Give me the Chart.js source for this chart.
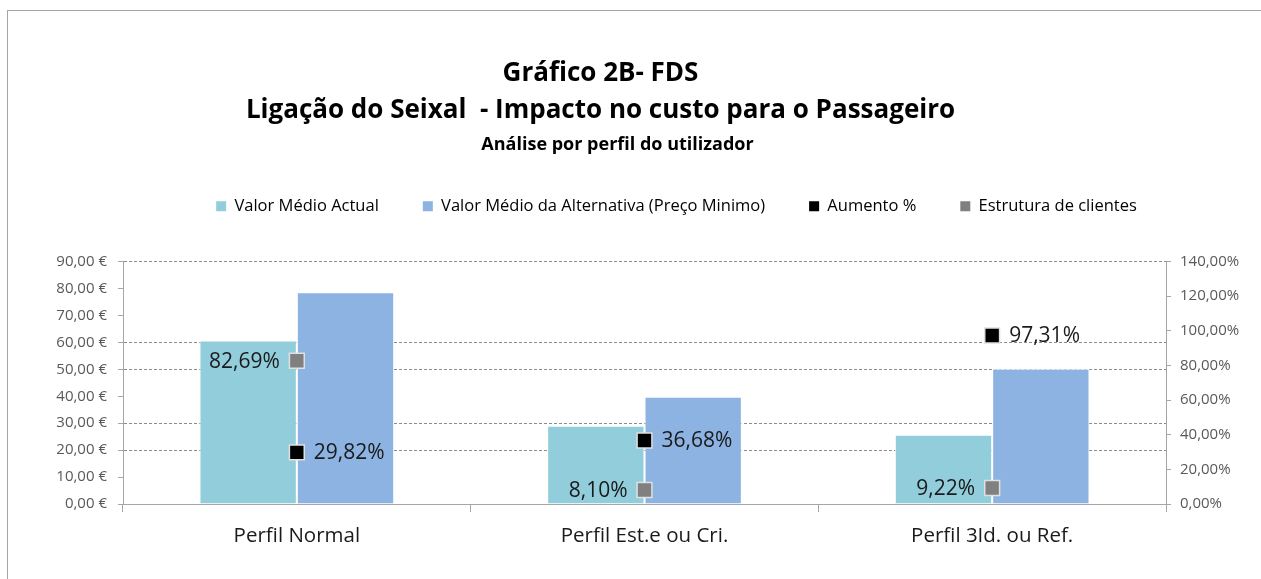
<!DOCTYPE html>
<html>
<head>
<meta charset="utf-8">
<script src="https://cdn.jsdelivr.net/npm/chart.js@4.4.1/dist/chart.umd.min.js"></script>
<style>
  html, body { margin: 0; padding: 0; background: #fff; }
  #frame { position: absolute; left: 7px; top: 10px; width: 1300px; height: 600px; border: 1px solid #a6a6a6; }
  #wrap { position: absolute; left: 0; top: 0; width: 1261px; height: 579px; }
</style>
</head>
<body>
<div id="frame"></div>
<div id="wrap"><canvas id="chart" width="1261" height="579"></canvas></div>
<script>
const categories = ['Perfil Normal', 'Perfil Est.e ou Cri.', 'Perfil 3Id. ou Ref.'];
const valorActual = [60.7, 29.0, 25.7];
const valorAlternativa = [78.6, 39.8, 50.2];
const aumento = [29.82, 36.68, 97.31];
const estrutura = [82.69, 8.10, 9.22];
const leftTicks = [0, 10, 20, 30, 40, 50, 60, 70, 80, 90];
const rightTicks = [0, 20, 40, 60, 80, 100, 120, 140];

const FONT = '"Open Sans", Lato, sans-serif';
const shownGrid = [90, 60, 50, 30, 20];

function euro(v) { return v.toFixed(2).replace('.', ',') + ' €'; }
function pct(v) { return v.toFixed(2).replace('.', ',') + '%'; }

// labels beside the markers
const pointLabels = {
  id: 'pointLabels',
  afterDatasetsDraw(chart) {
    const ctx = chart.ctx;
    ctx.save();
    ctx.font = '21px ' + FONT;
    ctx.fillStyle = '#1a1a1a';
    ctx.textBaseline = 'middle';
    chart.data.datasets.forEach((ds, i) => {
      if (!ds.labelSide) return;
      chart.getDatasetMeta(i).data.forEach((pt, j) => {
        const side = ds.labelSide[j];
        ctx.textAlign = side === 'left' ? 'right' : 'left';
        const x = side === 'left' ? pt.x - 17 : pt.x + 17;
        ctx.fillText(pct(ds.data[j]), x, pt.y + 1);
      });
    });
    ctx.restore();
  }
};

// extra room under the legend, and nudge title / legend sideways
const layoutTweak = {
  id: 'layoutTweak',
  beforeInit(chart) {
    const fit = chart.legend.fit;
    chart.legend.fit = function () {
      fit.bind(chart.legend)();
      this.height += 37;
    };
  },
  afterLayout(chart) {
    chart.legend.left += 46;
    chart.legend.right += 46;
    const tb = chart.titleBlock;
    chart.boxes.forEach(b => {
      if (b === tb) { b.left -= 30; b.right -= 30; }
      else if (tb && b !== chart.legend && b.constructor === tb.constructor) { b.left -= 13; b.right -= 13; }
    });
  }
};

new Chart(document.getElementById('chart'), {
  type: 'bar',
  data: {
    labels: categories,
    datasets: [{
      label: 'Valor Médio Actual',
      data: valorActual,
      backgroundColor: '#92CDDC',
      borderColor: 'rgba(255,255,255,0.9)',
      borderWidth: 1,
      yAxisID: 'y',
      order: 2
    }, {
      label: 'Valor Médio da Alternativa (Preço Minimo)',
      data: valorAlternativa,
      backgroundColor: '#8DB3E2',
      borderColor: 'rgba(255,255,255,0.9)',
      borderWidth: 1,
      yAxisID: 'y',
      order: 2
    }, {
      type: 'line',
      label: 'Aumento %',
      data: aumento,
      showLine: false,
      pointStyle: 'rect',
      pointRadius: 10.5,
      pointHoverRadius: 10.5,
      pointBackgroundColor: '#000000',
      pointBorderColor: '#e0e0e0',
      pointBorderWidth: 1.5,
      yAxisID: 'y1',
      labelSide: ['right', 'right', 'right'],
      order: 1
    }, {
      type: 'line',
      label: 'Estrutura de clientes',
      data: estrutura,
      showLine: false,
      pointStyle: 'rect',
      pointRadius: 10.5,
      pointHoverRadius: 10.5,
      pointBackgroundColor: '#808080',
      pointBorderColor: '#e0e0e0',
      pointBorderWidth: 1.5,
      yAxisID: 'y1',
      labelSide: ['left', 'left', 'left'],
      order: 1
    }]
  },
  options: {
    responsive: false,
    animation: false,
    layout: { padding: 0 },
    datasets: { bar: { categoryPercentage: 0.56, barPercentage: 1 } },
    plugins: {
      tooltip: { enabled: false },
      title: {
        display: true,
        text: ['Gráfico 2B- FDS', 'Ligação do Seixal  - Impacto no custo para o Passageiro'],
        color: '#000',
        font: { family: FONT, size: 26, weight: 'bold', lineHeight: 1.42 },
        padding: { top: 55.5, bottom: 6.7 }
      },
      subtitle: {
        display: true,
        text: 'Análise por perfil do utilizador',
        color: '#000',
        font: { family: FONT, size: 18, weight: 'bold', lineHeight: 1.0 },
        padding: { top: 0, bottom: 0 }
      },
      legend: {
        display: true,
        labels: {
          boxWidth: 10,
          boxHeight: 10,
          padding: 44,
          color: '#000',
          font: { family: FONT, size: 16.5 },
          generateLabels(chart) {
            return chart.data.datasets.map((ds, i) => ({
              text: ds.label,
              fillStyle: ds.backgroundColor || ds.pointBackgroundColor,
              strokeStyle: ds.backgroundColor || ds.pointBackgroundColor,
              lineWidth: 0,
              hidden: false,
              datasetIndex: i
            }));
          }
        }
      }
    },
    scales: {
      x: {
        offset: true,
        grid: { drawOnChartArea: false, tickLength: 8, color: '#a6a6a6', offset: true },
        border: { color: '#a6a6a6' },
        ticks: { color: '#1a1a1a', font: { family: FONT, size: 20.5 }, padding: 12 },
        afterFit(scale) { scale.height = 75; }
      },
      y: {
        position: 'left',
        min: 0,
        max: 90,
        afterBuildTicks(scale) { scale.ticks = leftTicks.map(v => ({ value: v })); },
        grid: {
          color: ctx => shownGrid.includes(ctx.tick.value) ? '#8c8c8c' : 'rgba(0,0,0,0)',
          tickColor: '#a6a6a6',
          tickLength: 5,
          lineWidth: 1
        },
        border: { color: '#a6a6a6', dash: [3, 2] },
        ticks: { color: '#595959', font: { family: FONT, size: 15 }, padding: 11, callback: v => euro(v) },
        afterFit(scale) { scale.width = 123; }
      },
      y1: {
        position: 'right',
        min: 0,
        max: 140,
        afterBuildTicks(scale) { scale.ticks = rightTicks.map(v => ({ value: v })); },
        grid: { drawOnChartArea: false, tickColor: '#a6a6a6', tickLength: 5 },
        border: { color: '#a6a6a6' },
        ticks: { color: '#595959', font: { family: FONT, size: 15 }, padding: 9, callback: v => pct(v) },
        afterFit(scale) { scale.width = 95; }
      }
    }
  },
  plugins: [pointLabels, layoutTweak]
});
</script>
</body>
</html>
